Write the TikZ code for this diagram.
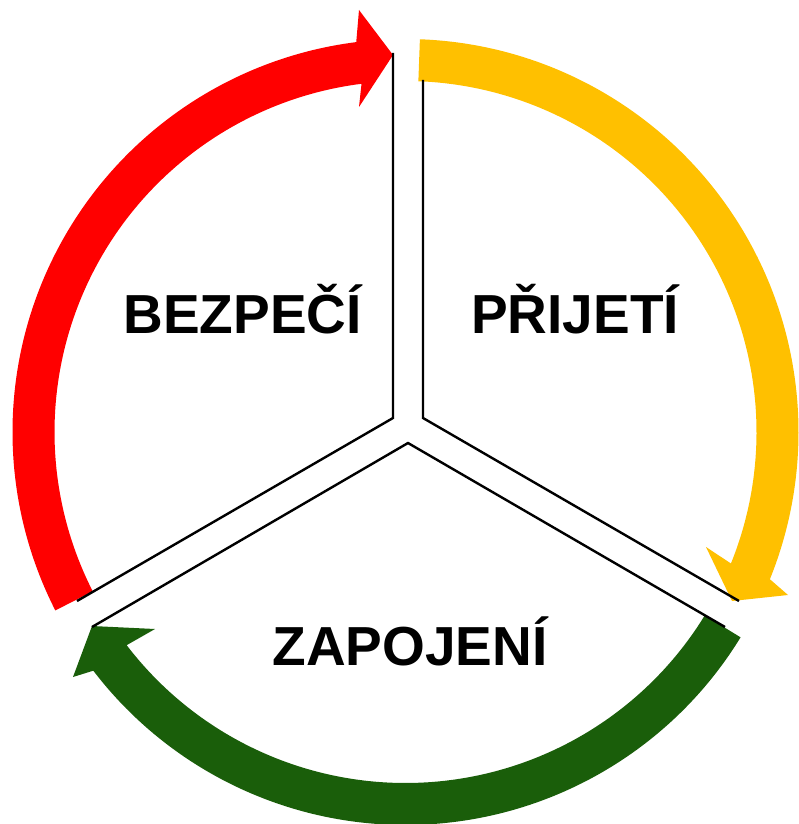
\documentclass[tikz,border=0pt]{standalone}
\usepackage{fontspec}
\setmainfont{Liberation Sans}
\definecolor{cred}{RGB}{255,0,0}
\definecolor{cyel}{RGB}{255,192,0}
\definecolor{cgrn}{RGB}{26,94,10}
\begin{document}
\begin{tikzpicture}[x=1pt,y=1pt,
  wall/.style={draw=black,line width=2.4pt,line join=miter},
  lbl/.style={font=\fontsize{55}{60}\selectfont\bfseries,anchor=base,inner sep=0pt}]
\useasboundingbox (0,0) rectangle (798,-824);
\coordinate (C) at (405.5,-432);
% red arc
\fill[cred] ([shift={(C)}]207:393pt) arc[start angle=207,end angle=97.2,radius=393pt]
  -- (359,-10) -- (393,-55) -- (359,-107)
  -- ([shift={(C)}]97.2:351pt) arc[start angle=97.2,end angle=207,radius=351pt] -- cycle;
% yellow arc
\fill[cyel] ([shift={(C)}]87.9:393pt) arc[start angle=87.9,end angle=-22,radius=393pt]
  -- (788,-595) -- (732,-601) -- (706,-547)
  -- ([shift={(C)}]-22:351pt) arc[start angle=-22,end angle=87.9,radius=351pt] -- cycle;
% green arc
\fill[cgrn] ([shift={(C)}]-31.5:393pt) arc[start angle=-31.5,end angle=-142.6,radius=393pt]
  -- (73,-677) -- (92,-626) -- (155,-629)
  -- ([shift={(C)}]-142.6:351pt) arc[start angle=-142.6,end angle=-31.5,radius=351pt] -- cycle;
% walls
\coordinate (w1) at (393,-53);
\coordinate (w2) at (393,-418);
\coordinate (w3) at (77,-601);
\coordinate (w4) at (423,-80);
\coordinate (w5) at (423,-418);
\coordinate (w6) at (739,-601);
\coordinate (w7) at (92,-627);
\coordinate (w8) at (408,-443);
\coordinate (w9) at (725,-627);
\draw[wall] (w1) -- (w2) -- (w3);
\draw[wall] (w4) -- (w5) -- (w6);
\draw[wall] (w7) -- (w8) -- (w9);
% labels
\node[lbl] (bez) at (242.5,-333) {BEZPEČÍ};
\node[lbl] (pri) at (575,-333) {PŘIJETÍ};
\node[lbl] (zap) at (410,-665) {ZAPOJENÍ};
\end{tikzpicture}
\end{document}
